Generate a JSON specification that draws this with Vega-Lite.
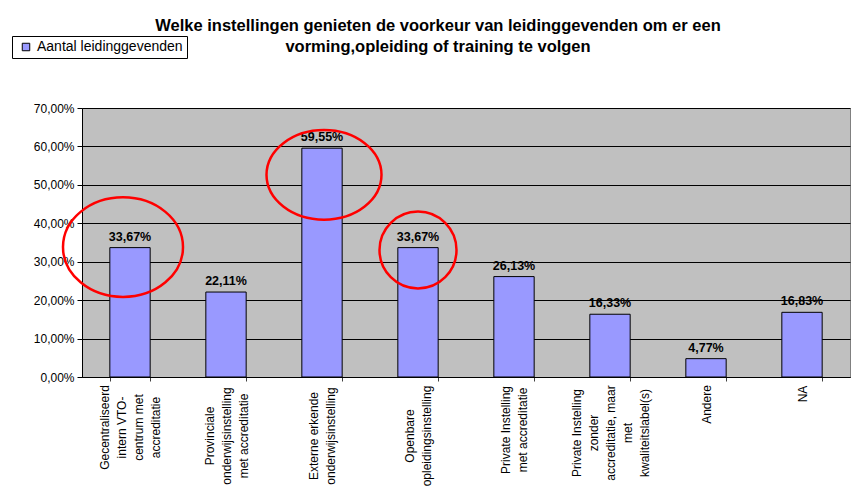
{
  "$schema": "https://vega.github.io/schema/vega-lite/v6.json",
  "width": 768,
  "height": 269,
  "autosize": {"type": "none"},
  "padding": {"left": 82, "top": 108, "right": 4, "bottom": 118},
  "background": "white",
  "title": {
    "text": ["Welke instellingen genieten de voorkeur van leidinggevenden om er een", "vorming,opleiding of training te volgen"],
    "font": "Liberation Sans",
    "fontSize": 16.5,
    "fontWeight": "bold",
    "color": "black",
    "lineHeight": 21,
    "anchor": "middle",
    "frame": "group",
    "dx": -28,
    "offset": -20
  },
  "config": {
    "locale": {"number": {"decimal": ",", "thousands": ".", "grouping": [3], "currency": ["€ ", ""]}},
    "font": "Liberation Sans",
    "view": {"fill": "#C0C0C0", "stroke": "#808080", "strokeWidth": 1},
    "axis": {"labelFont": "Liberation Sans", "labelColor": "black", "domainColor": "black", "tickColor": "black"}
  },
  "datasets": {
    "bars": [
      {"cat": "Gecentraliseerd\nintern VTO-\ncentrum met\naccreditatie", "pct": 0.3367},
      {"cat": "Provinciale\nonderwijsinstelling\nmet accreditatie", "pct": 0.2211},
      {"cat": "Externe erkende\nonderwijsinstelling", "pct": 0.5955},
      {"cat": "Openbare\nopleidingsinstelling", "pct": 0.3367},
      {"cat": "Private Instelling\nmet accreditatie", "pct": 0.2613},
      {"cat": "Private Instelling\nzonder\naccreditatie, maar\nmet\nkwaliteitslabel(s)", "pct": 0.1633},
      {"cat": "Andere", "pct": 0.0477},
      {"cat": "NA", "pct": 0.1683}
    ],
    "marks": [
      {"cat": "Gecentraliseerd\nintern VTO-\ncentrum met\naccreditatie", "pct": 0.338, "id": "a"},
      {"cat": "Externe erkende\nonderwijsinstelling", "pct": 0.526, "id": "b"},
      {"cat": "Openbare\nopleidingsinstelling", "pct": 0.3305, "id": "c"}
    ]
  },
  "encoding": {
    "x": {
      "field": "cat", "type": "nominal", "sort": null,
      "scale": {"paddingInner": 0.58, "paddingOuter": 0.29},
      "axis": {
        "title": null, "labelAngle": -90, "labelFontSize": 12, "labelLineHeight": 17,
        "labelAlign": "center", "labelBaseline": "middle", "labelOverlap": false,
        "labelExpr": "isValid(datum.value) ? split(datum.value, '\\n') : ''",
        "labelOffset": {
          "condition": [
            {"test": "isValid(datum.value) && length(split(datum.value, '\\n')) == 5", "value": -34},
            {"test": "isValid(datum.value) && length(split(datum.value, '\\n')) == 4", "value": -25.5},
            {"test": "isValid(datum.value) && length(split(datum.value, '\\n')) == 3", "value": -17},
            {"test": "isValid(datum.value) && length(split(datum.value, '\\n')) == 2", "value": -8.5}
          ],
          "value": 0
        },
        "labelPadding": {
          "condition": [
            {"test": "isValid(datum.value) && indexof(datum.value, 'Gecentraliseerd') >= 0", "value": 46},
            {"test": "isValid(datum.value) && indexof(datum.value, 'onderwijsinstelling') >= 0", "value": 54.5},
            {"test": "isValid(datum.value) && indexof(datum.value, 'opleidingsinstelling') >= 0", "value": 54.5},
            {"test": "isValid(datum.value) && indexof(datum.value, 'kwaliteitslabel') >= 0", "value": 51.5},
            {"test": "isValid(datum.value) && indexof(datum.value, 'Private Instelling') >= 0", "value": 48.5},
            {"test": "isValid(datum.value) && datum.value == 'Andere'", "value": 23},
            {"test": "isValid(datum.value) && datum.value == 'NA'", "value": 12.5}
          ],
          "value": 4
        },
        "tickBand": "extent", "tickSize": 4,
        "labelLimit": 200, "domainColor": "black", "tickColor": "#404040"
      }
    },
    "y": {
      "field": "pct", "type": "quantitative",
      "scale": {"domain": [0, 0.7], "nice": false},
      "axis": {
        "title": null, "format": ".2%", "values": [0, 0.1, 0.2, 0.3, 0.4, 0.5, 0.6, 0.7],
        "labelFontSize": 12, "tickSize": 5, "labelPadding": 3, "labelOverlap": false,
        "grid": true, "gridColor": "black", "gridOpacity": 1, "gridWidth": 1
      }
    }
  },
  "layer": [
    {
      "data": {"name": "bars"},
      "mark": {"type": "bar", "stroke": "black", "strokeWidth": 1},
      "encoding": {
        "color": {
          "datum": "Aantal leidinggevenden",
          "scale": {"range": ["#9999FF"]},
          "legend": {
            "title": null, "orient": "none", "legendX": -70, "legendY": -72,
            "strokeColor": "black", "fillColor": "white", "padding": 4,
            "symbolType": "square", "symbolSize": 56, "symbolStrokeColor": "black", "symbolStrokeWidth": 1,
            "symbolOffset": 3,
            "labelFont": "Liberation Sans", "labelFontSize": 14, "labelColor": "black", "labelOffset": 4
          }
        }
      }
    },
    {
      "data": {"name": "bars"},
      "mark": {"type": "text", "font": "Liberation Sans", "fontSize": 12.5, "fontWeight": "bold", "color": "black", "baseline": "bottom", "dy": -4},
      "encoding": {
        "text": {"field": "pct", "type": "quantitative", "format": ".2%"}
      }
    },
    {
      "data": {"name": "marks"},
      "transform": [{"filter": "datum.id == 'a'"}],
      "mark": {"type": "point", "shape": "M-1,0A1,0.83,0,1,1,1,0A1,0.83,0,1,1,-1,0Z", "size": 14400, "filled": false, "stroke": "#FF0000", "strokeWidth": 2.5, "opacity": 1, "xOffset": -7}
    },
    {
      "data": {"name": "marks"},
      "transform": [{"filter": "datum.id == 'b'"}],
      "mark": {"type": "point", "shape": "M-1,0A1,0.78,0,1,1,1,0A1,0.78,0,1,1,-1,0Z", "size": 13225, "filled": false, "stroke": "#FF0000", "strokeWidth": 2.5, "opacity": 1, "xOffset": 2}
    },
    {
      "data": {"name": "marks"},
      "transform": [{"filter": "datum.id == 'c'"}],
      "mark": {"type": "point", "shape": "circle", "size": 5929, "filled": false, "stroke": "#FF0000", "strokeWidth": 2.5, "opacity": 1}
    }
  ]
}
